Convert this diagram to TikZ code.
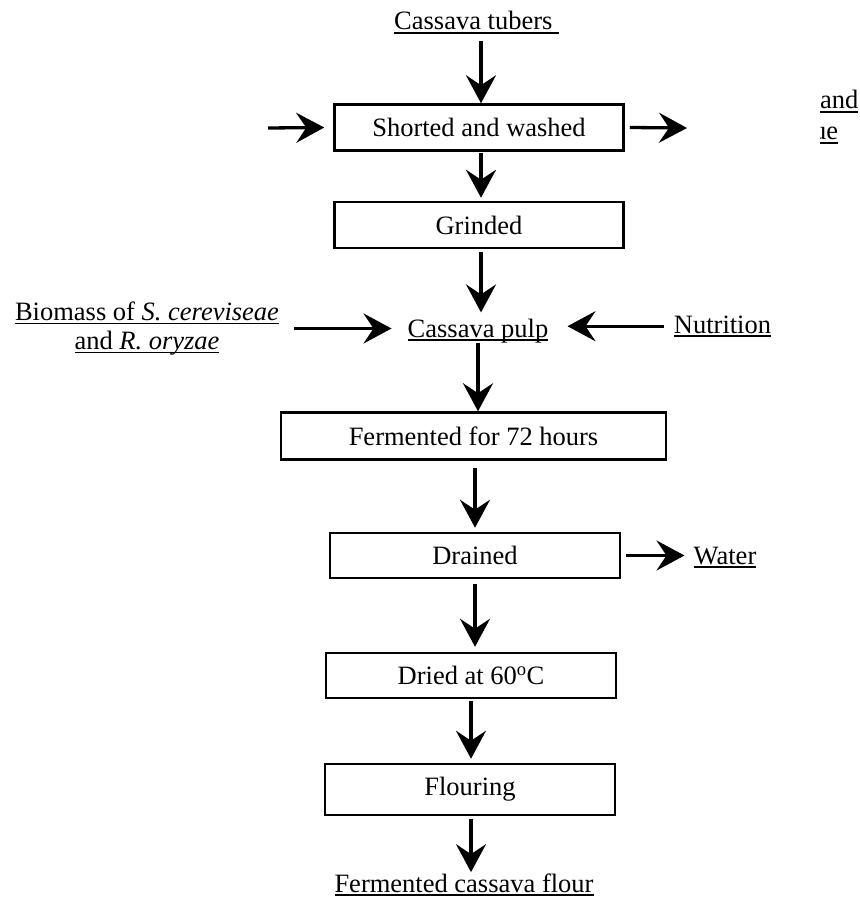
\documentclass[tikz,border=0pt]{standalone}
\usepackage{fontspec}
\setmainfont{Liberation Serif}
\usetikzlibrary{arrows.meta}
\newcommand\ulx[1]{\setbox0\hbox{#1}\rlap{\rule[-4pt]{\wd0}{1.8pt}}\box0}
\begin{document}
\begin{tikzpicture}[x=1pt,y=-1pt,
  every node/.style={font=\fontsize{26.5}{29}\selectfont, inner sep=0pt},
  procbox/.style={draw, line width=2.5pt, minimum height=46pt},
  arr/.style={line width=3.3pt, -{Stealth[length=28pt,width=30pt,inset=10pt]}},
]
\useasboundingbox (0,0) rectangle (859,904);

% text nodes
\node[anchor=base west] (tubers) at (394,30) {\ulx{Cassava tubers\ }};
\node[anchor=base] (pulp) at (478,337) {\ulx{Cassava pulp}};
\node[align=center] (bio) at (147,328.5) {\ulx{Biomass of \textit{S. cereviseae}}\\ \ulx{and \textit{R. oryzae}}};
\node[anchor=base] (nut) at (722.5,333) {\ulx{Nutrition}};
\node[anchor=base] (water) at (725,564) {\ulx{Water}};
\node[anchor=base] (final) at (464,892) {\ulx{Fermented cassava flour}};

% process boxes
\node[procbox, minimum width=289pt] (b1) at (479,127.5) {Shorted and washed};
\node[procbox, minimum width=289pt] (b2) at (479,225) {Grinded};
\node[procbox, minimum width=385pt, minimum height=47pt] (ferm) at (473.5,436) {Fermented for 72 hours};
\node[procbox, minimum width=290pt, minimum height=45pt] (drain) at (475,555.5) {Drained};
\node[procbox, minimum width=290pt, minimum height=45pt] (dried) at (471,675.5) {Dried at 60\textsuperscript{o}C};
\node[procbox, minimum width=290pt, minimum height=51pt] (flour) at (470,789.5) {Flouring};

% clipped side text
\begin{scope}
\clip (820,80) rectangle (859,150);
\node[anchor=base west] (cutA) at (820,109) {\ulx{and}};
\node[anchor=base west] (cutB) at (813,140) {\ulx{ue}};
\end{scope}

% free ends
\coordinate (inL) at (268,128);
\coordinate (outR) at (687,128);

% connectors
\draw[arr] ([xshift=2pt,yshift=-7pt]tubers.south -| b1.north) -- ([xshift=2pt]b1.north);
\draw[arr] (inL) -- ([xshift=-9pt]b1.west);
\draw[arr] ([xshift=5pt]b1.east) -- (outR);
\draw[arr] ([xshift=2pt,yshift=-1pt]b1.south) -- ([xshift=2pt,yshift=3pt]b2.north);
\draw[arr] ([xshift=2pt,yshift=-3pt]b2.south) -- ([xshift=2pt,yshift=6pt]b2.south |- pulp.north);
\draw[arr] ([xshift=15pt]bio.east) -- ([xshift=-16pt]pulp.west |- bio.east);
\draw[arr] ([xshift=-10pt]nut.west) -- ([xshift=19pt]pulp.east |- nut.west);
\draw[arr] (pulp.south) -- (pulp.south |- ferm.north);
\draw[arr] ([yshift=-7pt]ferm.south -| drain.north) -- ([yshift=4pt]drain.north);
\draw[arr] ([xshift=5pt]drain.east) -- ([xshift=-9pt]water.west |- drain.east);
\draw[arr] ([yshift=-5pt]drain.south) -- ([yshift=5pt]drain.south |- dried.north);
\draw[arr] ([yshift=-2pt]dried.south) -- ([yshift=4pt]dried.south |- flour.north);
\draw[arr] ([xshift=1pt,yshift=-3pt]flour.south) -- ([xshift=1pt,yshift=1pt]flour.south |- final.north);
\end{tikzpicture}
\end{document}
